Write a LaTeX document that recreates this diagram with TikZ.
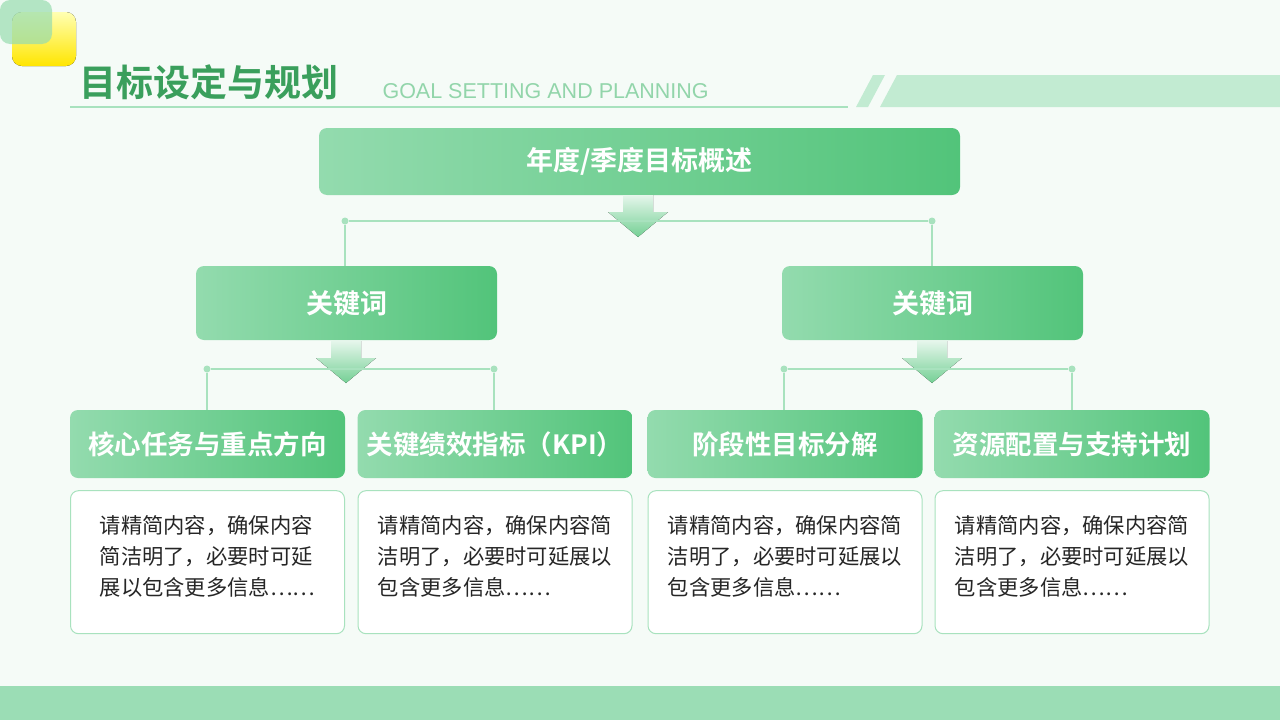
\documentclass[tikz,border=0pt]{standalone}
\usepackage{fontspec}
\newfontfamily\cjk{Noto Sans CJK SC}
\newfontfamily\cjkb{Noto Sans CJK SC Bold}
\setsansfont{Liberation Sans}
\usetikzlibrary{positioning}
\definecolor{bggreen}{HTML}{F5FBF7}
\definecolor{darkgreen}{HTML}{3A9F5C}
\definecolor{boxgreen}{HTML}{52C47A}
\definecolor{lightgreen}{HTML}{93DBAE}
\definecolor{linegreen}{HTML}{A8E2BE}
\definecolor{bandgreen}{HTML}{9BDDB5}
\tikzset{
  greenbox/.style={rounded corners=8pt, left color=lightgreen, right color=boxgreen,
    text=white, font=\cjkb\fontsize{27}{32}\selectfont, inner sep=0pt},
  card/.style={rounded corners=8pt, fill=white, draw=linegreen, line width=1pt,
    minimum width=274pt, minimum height=143pt, inner sep=0pt},
  cardtext/.style={font=\cjk\fontsize{21.3}{31}\selectfont, text=black!85, align=left},
  joint/.style={circle, fill=linegreen, inner sep=0pt, minimum size=7pt},
  link/.style={draw=linegreen, line width=1.2pt}
}
\newcommand{\fatarrow}[2]{% x, top y
  \fill[top color=boxgreen!15, bottom color=boxgreen!80]
    (#1-15,#2) -- (#1+15,#2) -- (#1+15,#2+17) -- (#1+30,#2+17) -- (#1,#2+42)
    -- (#1-30,#2+17) -- (#1-15,#2+17) -- cycle;}
\begin{document}
\begin{tikzpicture}[x=1pt, y=-1pt]
  % background and frame
  \fill[bggreen] (0,0) rectangle (1280,720);
  \useasboundingbox (0,0) rectangle (1280,720);
  \fill[bandgreen] (0,686) rectangle (1280,720);
  \fill[top color=yellow!30, bottom color=yellow!80!orange, rounded corners=10pt] (12,12) rectangle (76,66);
  \fill[boxgreen!60, opacity=0.7, rounded corners=10pt] (0,0) rectangle (52,44);
  \fill[linegreen!70] (873,75) -- (885,75) -- (868,107) -- (856,107) -- cycle;
  \fill[linegreen!70] (897,75) -- (1280,75) -- (1280,107) -- (880,107) -- cycle;
  \draw[linegreen, line width=1.5pt] (70,107) -- (848,107);
  \node[anchor=west, text=darkgreen, font=\cjkb\fontsize{37}{42}\selectfont] (title) at (76,82) {目标设定与规划};
  \node[anchor=west, text=linegreen!80!darkgreen, font=\sffamily\fontsize{21.5}{24}\selectfont] (subtitle) at (379,91) {GOAL SETTING AND PLANNING};

  % top level
  \node[greenbox, minimum width=641pt, minimum height=67pt] (goal) at (639.5,161.5) {年度/季度目标概述};
  \fatarrow{638}{195}
  \node[greenbox, minimum width=301pt, minimum height=74pt] (keyl) at (346.5,303) {关键词};
  \node[greenbox, minimum width=301pt, minimum height=74pt] (keyr) at (932.5,303) {关键词};
  \node[joint] (jl) at (345,221) {};
  \node[joint] (jr) at (932,221) {};
  \path[link] (jl) -- (jr);
  \path[link] (jl) -- (keyl.north -| jl);
  \path[link] (jr) -- (keyr.north -| jr);
  \fatarrow{346}{341}
  \fatarrow{932}{341}

  % bottom level
  \foreach \name/\x/\lbl in {a/207.5/核心任务与重点方向, b/495/关键绩效指标（KPI）,
      c/785/阶段性目标分解, d/1072/资源配置与支持计划}{
    \node[greenbox, font=\cjkb\fontsize{26.5}{30}\selectfont, minimum width=275pt,
      minimum height=68pt] (h\name) at (\x,444) {\lbl};
    \node[card, below=12pt of h\name] (c\name) {};
  }
  \node[joint] (ja) at (207,369) {};
  \node[joint] (jb) at (494,369) {};
  \node[joint] (jc) at (784,369) {};
  \node[joint] (jd) at (1072,369) {};
  \path[link] (ja) -- (jb);
  \path[link] (jc) -- (jd);
  \foreach \j/\h in {ja/ha, jb/hb, jc/hc, jd/hd}
    \path[link] (\j) -- (\h.north -| \j);

  \node[cardtext, yshift=6pt] at (ca) {请精简内容，确保内容\\简洁明了，必要时可延\\展以包含更多信息……};
  \node[cardtext, yshift=6pt] at (cb) {请精简内容，确保内容简\\洁明了，必要时可延展以\\包含更多信息……};
  \node[cardtext, yshift=6pt] at (cc) {请精简内容，确保内容简\\洁明了，必要时可延展以\\包含更多信息……};
  \node[cardtext, yshift=6pt] at (cd) {请精简内容，确保内容简\\洁明了，必要时可延展以\\包含更多信息……};
\end{tikzpicture}
\end{document}
